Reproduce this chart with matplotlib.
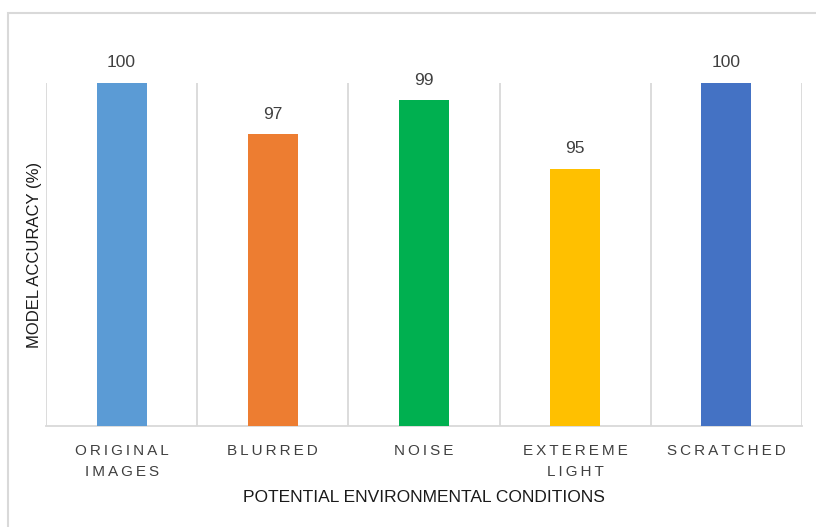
import matplotlib.pyplot as plt
from matplotlib.patches import Rectangle

conditions = ["ORIGINAL\nIMAGES", "BLURRED", "NOISE", "EXTEREME\nLIGHT", "SCRATCHED"]
accuracy = [100, 97, 99, 95, 100]
bar_colors = ["#5B9BD5", "#ED7D31", "#00B050", "#FFC000", "#4472C4"]


def spaced(label):
    # Excel-style letter spacing on the category labels
    return "\n".join("\u2009".join(line) for line in label.split("\n"))


plt.rcParams['font.family'] = ['Liberation Sans', 'DejaVu Sans']

fig = plt.figure(figsize=(8.16, 5.27), dpi=100)
W, H = 816, 527
ax = fig.add_axes([46 / W, 1 - 426 / H, (802 - 46) / W, (426 - 83) / H])

x = list(range(len(conditions)))
ax.bar(x, accuracy, width=0.33, color=bar_colors, zorder=3)
for xi, v in zip(x, accuracy):
    ax.annotate(str(v), (xi, v), xytext=(0, 9), textcoords="offset points",
                ha="center", va="bottom", fontsize=12.5, color="#404040")

ax.set_xlim(-0.5, len(conditions) - 0.5)
ax.set_ylim(80, 100)
ax.set_yticks([])
ax.set_xticks(x)
ax.set_xticklabels([spaced(c) for c in conditions], fontsize=11, color="#404040",
                   linespacing=1.62)
ax.tick_params(axis="x", length=0, pad=13)

# category separators
for b in [i - 0.5 for i in range(len(conditions) + 1)]:
    ax.axvline(b, color="#D9D9D9", linewidth=1.3, zorder=1)

for side in ["top", "right", "left"]:
    ax.spines[side].set_visible(False)
ax.spines["bottom"].set_color("#D9D9D9")
ax.spines["bottom"].set_linewidth(1.3)

ax.set_xlabel("POTENTIAL ENVIRONMENTAL CONDITIONS", fontsize=12.5, color="#1a1a1a",
              labelpad=8)
ax.set_ylabel("MODEL ACCURACY (%)", fontsize=12, color="#1a1a1a", labelpad=3)

# chart area border
fig.patches.append(Rectangle((7.5 / W, -0.2), 1.5, 1.2 - 12.5 / H,
                             transform=fig.transFigure, fill=False,
                             edgecolor="#D9D9D9", linewidth=1.5))

fig.savefig("out.png", dpi=100)
